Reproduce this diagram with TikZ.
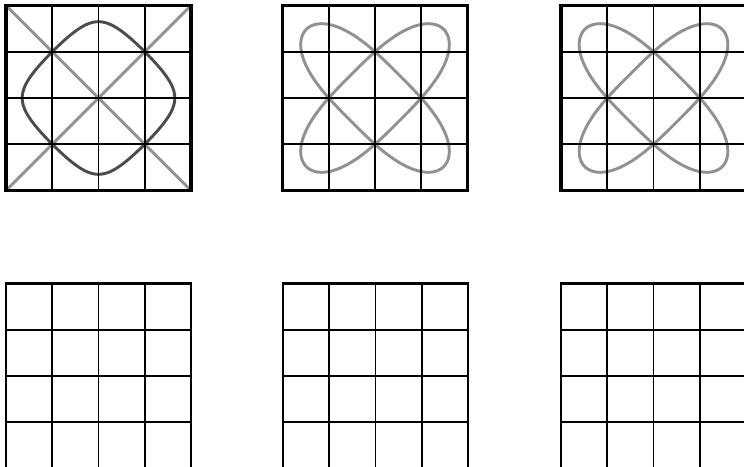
\documentclass[tikz,border=0pt]{standalone}
\definecolor{diaggray}{gray}{0.58}
\definecolor{curvedark}{gray}{0.3}
\definecolor{ellgray}{gray}{0.57}
\tikzset{
  innerline/.style={line width=1.45pt, black},
  outerline/.style={line width=2.6pt, black, line join=miter},
  plainouter/.style={line width=1.6pt, black},
  diagline/.style={line width=2.2pt, diaggray},
  darkcurve/.style={line width=2.2pt, curvedark, line join=round},
  ellcurve/.style={line width=2.2pt, ellgray, line join=round}
}
\newcommand{\topgrid}{%
  \foreach \i in {1,2,3}{\draw[innerline] (\i,0)--(\i,4); \draw[innerline] (0,\i)--(4,\i);}
  \draw[outerline] (0,0) rectangle (4,4);}
\newcommand{\bottomgrid}{%
  \foreach \i in {1,2,3}{\draw[innerline] (\i,0)--(\i,4); \draw[innerline] (0,\i)--(4,\i);}
  \draw[plainouter] (0,0) rectangle (4,4);}
% lobed closed curves: superellipse along the diagonals
\newcommand{\twolobes}{%
  \draw[ellcurve] plot[domain=0:360,samples=241]
    ({2+1.4849*cos(\x)*(cos(\x)*cos(\x)+0.000001)^(-1/6)+0.5098*sin(\x)},
     {2+1.4849*cos(\x)*(cos(\x)*cos(\x)+0.000001)^(-1/6)-0.5098*sin(\x)}) -- cycle;
  \draw[ellcurve] plot[domain=0:360,samples=241]
    ({2+1.4849*cos(\x)*(cos(\x)*cos(\x)+0.000001)^(-1/6)+0.5098*sin(\x)},
     {2-1.4849*cos(\x)*(cos(\x)*cos(\x)+0.000001)^(-1/6)+0.5098*sin(\x)}) -- cycle;}
\begin{document}
\begin{tikzpicture}[x=0.75pt,y=-0.75pt]
\useasboundingbox (0,0) rectangle (744,467);
\clip (0,0) rectangle (744,467);
% top row
\begin{scope}[shift={(6,5.5)},scale=46.25]
  \draw[diagline] (0,0)--(4,4);
  \draw[diagline] (4,0)--(0,4);
  \draw[darkcurve] plot[domain=0:360,samples=200] ({2+1.532*(cos(\x)+0.077*cos(3*\x))},{2+1.532*(sin(\x)-0.077*sin(3*\x))}) -- cycle;
  \topgrid
\end{scope}
\begin{scope}[shift={(282.5,5.5)},scale=46.25]
  \twolobes
  \topgrid
\end{scope}
\begin{scope}[shift={(561,5.5)},scale=46.25]
  \twolobes
  \topgrid
\end{scope}
% bottom row
\begin{scope}[shift={(6,283.5)},scale=46.25]
  \bottomgrid
\end{scope}
\begin{scope}[shift={(283,283.5)},scale=46.25]
  \bottomgrid
\end{scope}
\begin{scope}[shift={(561,283.5)},scale=46.25]
  \bottomgrid
\end{scope}
\end{tikzpicture}
\end{document}
